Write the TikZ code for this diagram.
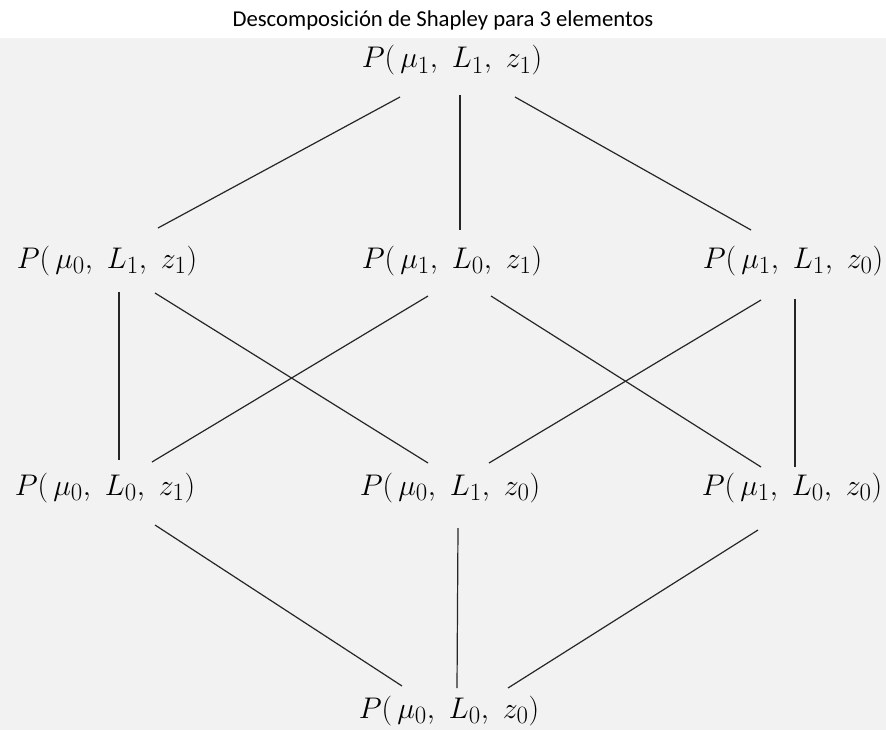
\documentclass[tikz,border=0pt]{standalone}
\usepackage{graphicx}
\usepackage{fontspec}
\newfontfamily\titlefont{Carlito}
\usetikzlibrary{calc}
\tikzset{
  term/.style={inner sep=0pt, anchor=base, font=\fontsize{24.88}{30}\selectfont},
  link/.style={line width=1.2pt, draw=black!85},
  titletext/.style={inner sep=0pt, anchor=base, font=\titlefont\fontsize{22.7}{26}\selectfont}
}
\newcommand{\Pterm}[3]{\scalebox{1.2}{$P(\,\mu_{#1},\ L_{#2},\ z_{#3})$}}
\begin{document}
\begin{tikzpicture}[x=1pt,y=-1pt]
\useasboundingbox (0,0) rectangle (886,730);
\fill[black!5] (0,38) rectangle (886,730);
\node[titletext] (title) at (443,27) {Descomposición de Shapley para 3 elementos};
\node[term] (t) at (452,68) {\Pterm{1}{1}{1}};
\node[term] (a) at (107,268) {\Pterm{0}{1}{1}};
\node[term] (b) at (452,268) {\Pterm{1}{0}{1}};
\node[term] (c) at (793,268) {\Pterm{1}{1}{0}};
\node[term] (d) at (105,495) {\Pterm{0}{0}{1}};
\node[term] (e) at (450,495) {\Pterm{0}{1}{0}};
\node[term] (f) at (792,495) {\Pterm{1}{0}{0}};
\node[term] (g) at (449,718) {\Pterm{0}{0}{0}};
\draw[link] ($(t.base)+(-52,29)$) -- ($(a.base)+(51,-40)$);
\draw[link] ($(t.base)+(8,27)$) -- ($(b.base)+(8,-38)$);
\draw[link] ($(t.base)+(63,29)$) -- ($(c.base)+(-42,-38)$);
\draw[link] ($(a.base)+(12,24)$) -- ($(d.base)+(14,-35)$);
\draw[link] ($(a.base)+(48,25)$) -- ($(e.base)+(-22,-32)$);
\draw[link] ($(b.base)+(-24,28)$) -- ($(d.base)+(47,-33)$);
\draw[link] ($(b.base)+(39,28)$) -- ($(f.base)+(-31,-28)$);
\draw[link] ($(c.base)+(-32,32)$) -- ($(e.base)+(39,-32)$);
\draw[link] ($(c.base)+(2,31)$) -- ($(f.base)+(3,-28)$);
\draw[link] ($(d.base)+(50,30)$) -- ($(g.base)+(-47,-32)$);
\draw[link] ($(e.base)+(8,33)$) -- ($(g.base)+(8,-30)$);
\draw[link] ($(f.base)+(-34,35)$) -- ($(g.base)+(59,-30)$);
\end{tikzpicture}
\end{document}
